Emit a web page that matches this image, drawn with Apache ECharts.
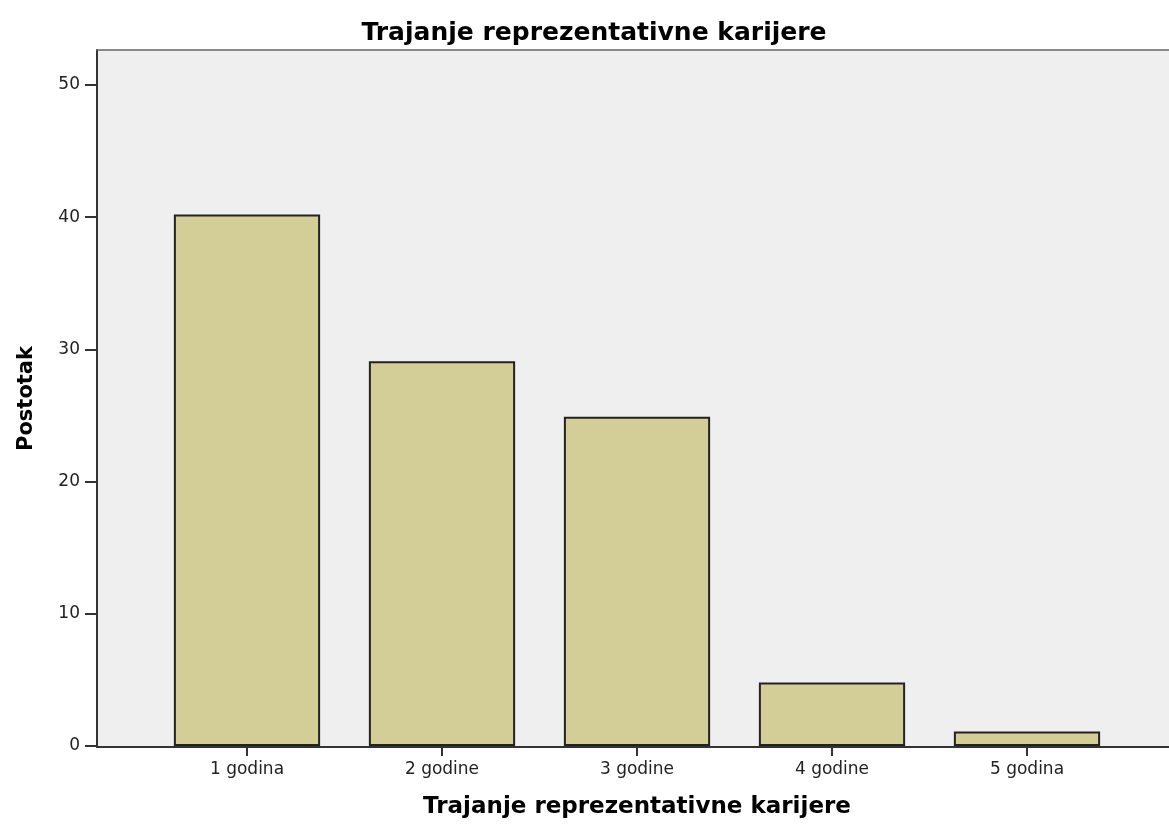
<!DOCTYPE html>
<html>
<head>
<meta charset="utf-8">
<title>Trajanje reprezentativne karijere</title>
<script src="https://cdn.jsdelivr.net/npm/echarts@6/dist/echarts.min.js"></script>
<style>
	html, body { margin: 0; padding: 0; background: #fff; }
	#chart { width: 1169px; height: 824px; }
</style>
</head>
<body>
<div id="chart"></div>
<script>
	// podaci
	const categories = ['1 godina', '2 godine', '3 godine', '4 godine', '5 godina']
	const percentages = [40.2, 29.1, 24.9, 4.8, 1.1]
	const yMax = 50
	const yStep = 10

	const chart = echarts.init(document.getElementById('chart'))

	// os bez oznaka, samo linija (okvir pozadine)
	const frameAxis = (position, color, width) => ({
		gridIndex: 0,
		type: 'value',
		position: position,
		min: 0,
		max: 1,
		axisLine: { show: true, onZero: false, lineStyle: { color: color, width: width } },
		axisTick: { show: false },
		axisLabel: { show: false },
		splitLine: { show: false }
	})

	const option = {
		animation: false,
		title: {
			text: 'Trajanje reprezentativne karijere',
			left: 589,
			textAlign: 'center',
			top: 16,
			textStyle: {
				fontFamily: 'DejaVu Sans',
				fontWeight: 'bold',
				fontSize: 25,
				color: '#000'
			}
		},
		grid: [
			// pozadina, desni rub izlazi iz slike pa nema okvira
			{
				left: 97,
				right: 0,
				top: 50,
				bottom: 77,
				show: true,
				backgroundColor: '#efefef',
				borderWidth: 0
			},
			// stupci
			{
				left: 149.5,
				right: 44.5,
				top: 85,
				bottom: 77
			}
		],
		xAxis: [
			frameAxis('bottom', '#333', 2),
			frameAxis('top', '#666', 1.5),
			{
				gridIndex: 1,
				type: 'category',
				data: categories,
				name: 'Trajanje reprezentativne karijere',
				nameLocation: 'middle',
				nameGap: 50,
				nameTextStyle: {
					fontFamily: 'DejaVu Sans',
					fontWeight: 'bold',
					fontSize: 23,
					color: '#000'
				},
				axisLine: { show: false },
				axisTick: {
					show: true,
					alignWithLabel: true,
					length: 10,
					lineStyle: { color: '#333', width: 2 }
				},
				axisLabel: {
					margin: 15,
					fontFamily: 'DejaVu Sans',
					fontSize: 17,
					color: '#222'
				}
			}
		],
		yAxis: [
			{
				gridIndex: 0,
				type: 'value',
				min: 0,
				max: 1,
				name: 'Postotak',
				nameLocation: 'middle',
				nameGap: 60,
				nameTextStyle: {
					fontFamily: 'DejaVu Sans',
					fontWeight: 'bold',
					fontSize: 21,
					color: '#000'
				},
				axisLine: { show: true, onZero: false, lineStyle: { color: '#333', width: 2 } },
				axisTick: { show: false },
				axisLabel: { show: false },
				splitLine: { show: false }
			},
			{
				gridIndex: 1,
				type: 'value',
				min: 0,
				max: yMax,
				interval: yStep,
				offset: 52.5,
				axisLine: { show: false },
				axisTick: {
					show: true,
					length: 12,
					lineStyle: { color: '#333', width: 2 }
				},
				axisLabel: {
					margin: 17,
					fontFamily: 'DejaVu Sans',
					fontSize: 17,
					color: '#222'
				},
				splitLine: { show: false }
			}
		],
		series: [
			{
				type: 'bar',
				xAxisIndex: 2,
				yAxisIndex: 1,
				data: percentages,
				barCategoryGap: '25%',
				itemStyle: {
					color: '#d3ce98',
					borderColor: '#222',
					borderWidth: 2
				}
			}
		]
	}

	chart.setOption(option)
</script>
</body>
</html>
